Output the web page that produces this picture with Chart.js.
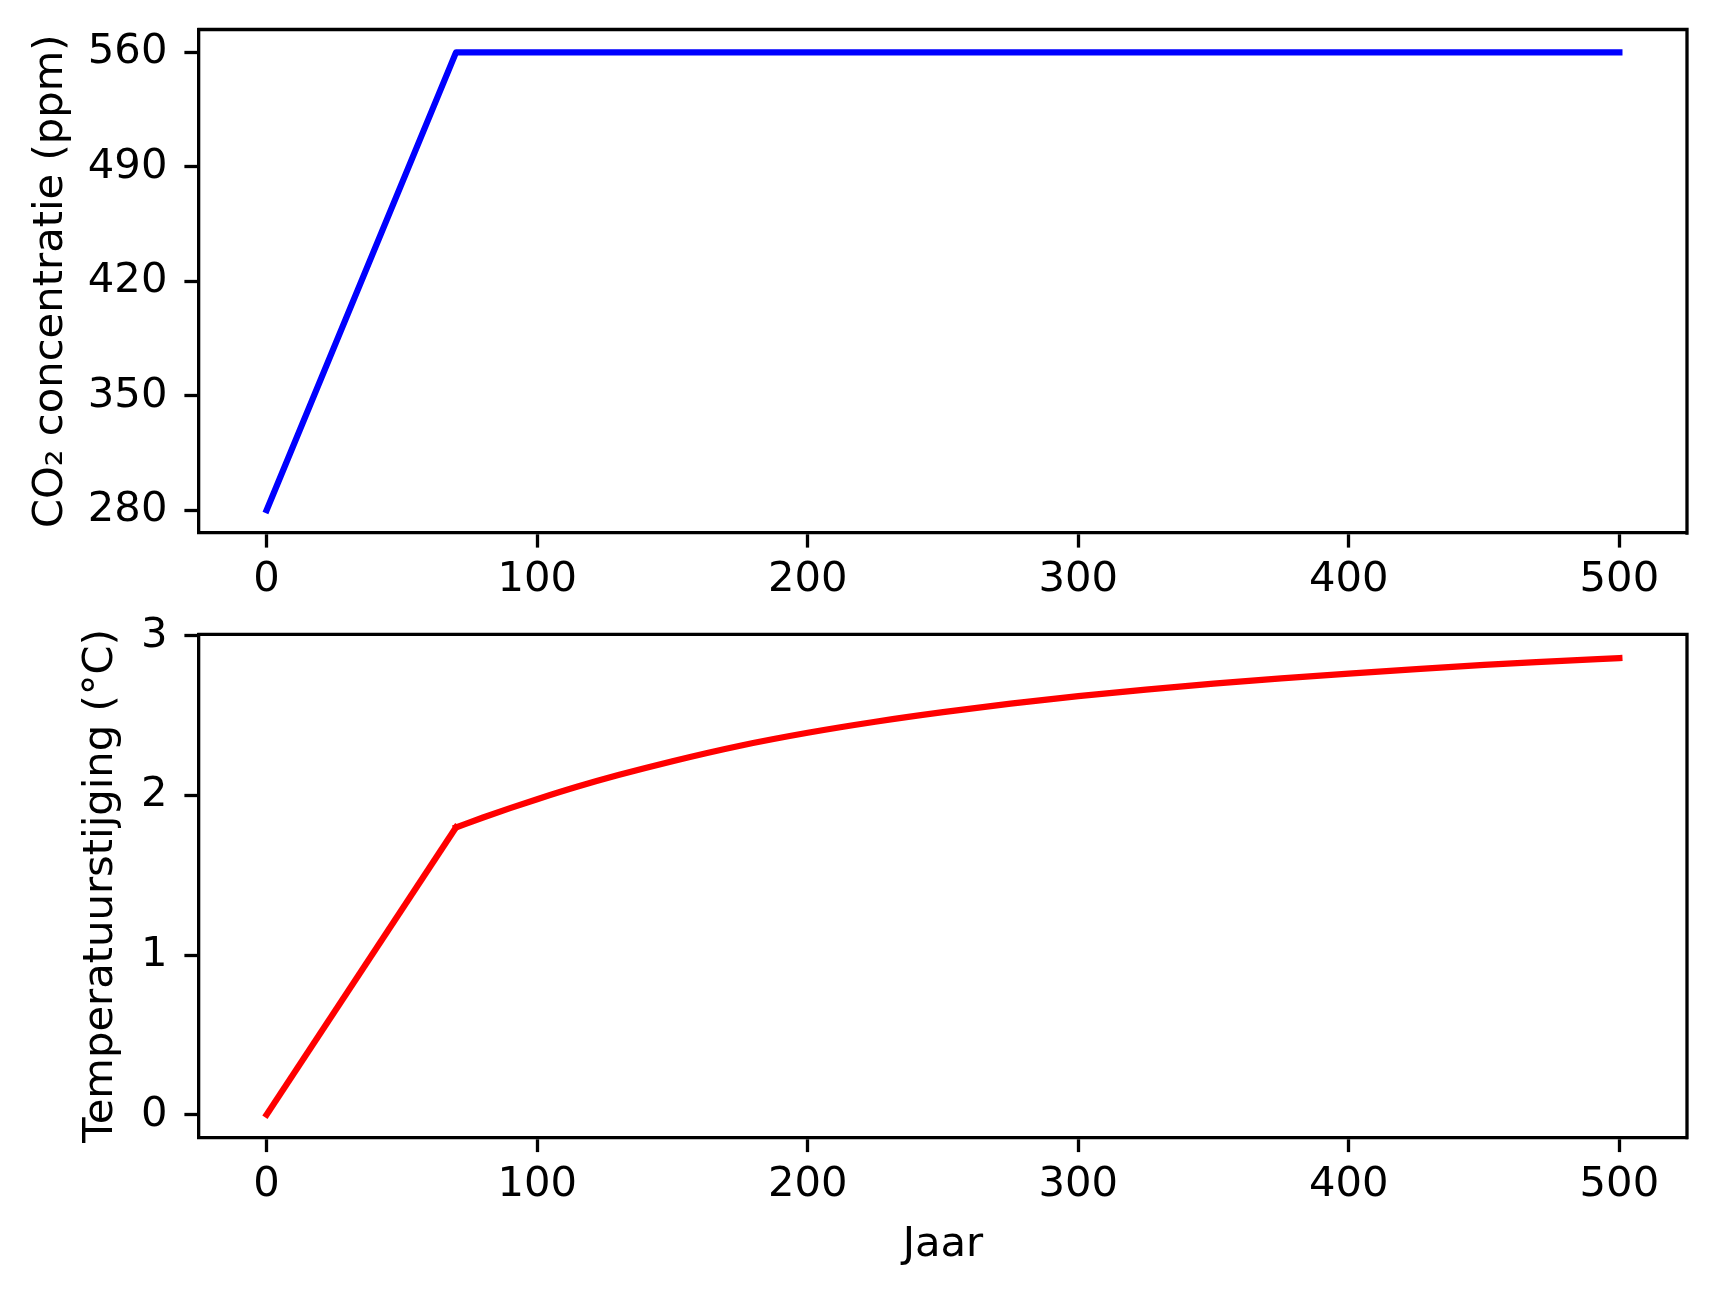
<!DOCTYPE html>
<html>
<head>
<meta charset="utf-8">
<script src="https://cdn.jsdelivr.net/npm/chart.js@4/dist/chart.umd.min.js"></script>
<style>
  html, body { margin: 0; padding: 0; background: #fff; }
  #wrap { position: relative; width: 1717px; height: 1294px; background: #fff; }
  canvas { position: absolute; left: 0; }
  #top-chart { top: 0; }
  #bottom-chart { top: 600px; }
</style>
</head>
<body>
<div id="wrap">
  <canvas id="top-chart" width="1717" height="600"></canvas>
  <canvas id="bottom-chart" width="1717" height="694"></canvas>
</div>
<script>
/* data */
const co2Years  = [0, 70, 500];
const co2Ppm    = [280, 560, 560];

const tempYears = [0, 70, 80, 90, 100, 115, 130, 150, 175, 200, 225, 250, 275, 300, 325, 350, 375, 400, 425, 450, 475, 500];
const tempRise  = [0, 1.80, 1.862, 1.921, 1.977, 2.056, 2.128, 2.215, 2.312, 2.393, 2.462, 2.522, 2.575, 2.622, 2.664, 2.701, 2.734, 2.764, 2.792, 2.818, 2.840, 2.861];

const yearTicks = [0, 100, 200, 300, 400, 500];
const co2Ticks  = [280, 350, 420, 490, 560];
const tempTicks = [0, 1, 2, 3];

const FONT = { family: "'DejaVu Sans', sans-serif", size: 41.7 };
const LW = 3.3;       // spine / tick width
const TICK_LEN = 14.6;

/* top + right spines, Chart.js only draws the axis borders */
const framePlugin = {
  id: 'frame',
  afterDraw(chart) {
    const { ctx, chartArea: a } = chart;
    ctx.save();
    ctx.strokeStyle = '#000';
    ctx.lineWidth = LW;
    ctx.lineCap = 'square';
    ctx.beginPath();
    ctx.moveTo(a.left, a.top);
    ctx.lineTo(a.right, a.top);
    ctx.lineTo(a.right, a.bottom);
    ctx.stroke();
    ctx.restore();
  }
};

function _pts(xs, ys) {
  return xs.map((x, i) => ({ x, y: ys[i] }));
}

function _lineSet(points, color, smooth) {
  return {
    data: points,
    borderColor: color,
    borderWidth: 6.25,
    borderCapStyle: 'square',
    borderJoinStyle: 'round',
    pointRadius: 0,
    tension: 0,
    cubicInterpolationMode: smooth ? 'monotone' : 'default',
    fill: false
  };
}

function _axis(ticks, extra) {
  return Object.assign({
    type: 'linear',
    grid: { display: true, drawOnChartArea: false, drawTicks: true, tickLength: TICK_LEN, tickWidth: LW, tickColor: '#000' },
    border: { display: true, color: '#000', width: LW },
    ticks: { color: '#000', font: FONT, autoSkip: false, maxRotation: 0 },
    afterBuildTicks: s => { s.ticks = ticks.map(v => ({ value: v })); }
  }, extra);
}

function makePanel(canvas, o) {
  const xAxis = _axis(yearTicks, {
    min: -25, max: 525,
    afterFit: s => { s.height = o.xHeight; s.paddingLeft = 0; s.paddingRight = 0; },
    title: o.xTitle
      ? { display: true, text: o.xTitle, color: '#000', font: FONT, padding: { top: 0, bottom: o.xTitlePad } }
      : { display: false }
  });
  xAxis.ticks.padding = 8;

  const yAxis = _axis(o.yTicks, {
    min: o.yMin, max: o.yMax,
    afterFit: s => { s.width = 199; s.paddingTop = 0; s.paddingBottom = 0; },
    title: { display: true, text: o.yTitle, color: '#000', font: FONT, padding: { top: o.yTitlePad, bottom: 0 } }
  });
  yAxis.ticks.padding = 17;

  return new Chart(canvas, {
    type: 'line',
    data: { datasets: o.datasets },
    options: {
      responsive: false,
      animation: false,
      devicePixelRatio: 1,
      layout: { padding: { top: o.padTop, right: 30, left: 0, bottom: 0 } },
      plugins: { legend: { display: false }, tooltip: { enabled: false } },
      scales: { x: xAxis, y: yAxis }
    },
    plugins: [framePlugin]
  });
}

/* CO2: straight segments */
makePanel(document.getElementById('top-chart'), {
  datasets: [_lineSet(_pts(co2Years, co2Ppm), '#0000ff', false)],
  yTicks: co2Ticks, yMin: 266, yMax: 574,
  yTitle: 'CO\u2082 concentratie (ppm)', yTitlePad: 26,
  padTop: 29.5, xHeight: 67
});

/* temperature: straight rise up to year 70, smooth curve after */
const tempAll = _pts(tempYears, tempRise);
makePanel(document.getElementById('bottom-chart'), {
  datasets: [
    _lineSet(tempAll.slice(0, 2), '#ff0000', false),
    _lineSet(tempAll.slice(1), '#ff0000', true)
  ],
  yTicks: tempTicks, yMin: -0.143, yMax: 3.01,
  yTitle: 'Temperatuurstijging (\u00B0C)', yTitlePad: 76,
  xTitle: 'Jaar', xTitlePad: 24,
  padTop: 34.3, xHeight: 156.5
});
</script>
</body>
</html>
